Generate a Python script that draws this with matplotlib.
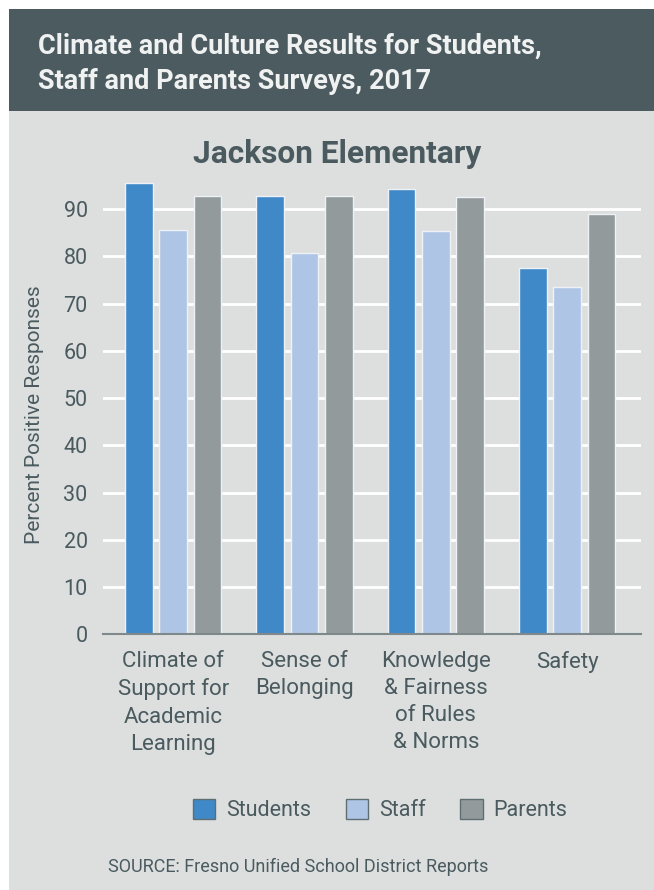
import matplotlib
matplotlib.use("Agg")
import matplotlib.pyplot as plt
from matplotlib import font_manager as fm
from matplotlib.patches import Rectangle, Patch
import numpy as np

categories = ["Climate of\nSupport for\nAcademic\nLearning", "Sense of\nBelonging",
              "Knowledge\n& Fairness\nof Rules\n& Norms", "Safety"]
series_names = ["Students", "Staff", "Parents"]
students = [95.5, 92.7, 94.3, 77.6]
staff = [85.5, 80.6, 85.3, 73.5]
parents = [92.7, 92.7, 92.6, 88.9]
yticks = [0, 10, 20, 30, 40, 50, 60, 70, 80, 90]

colors = ["#3f89c9", "#afc5e6", "#939a9c"]
panel_bg = "#dcdfde"
header_bg = "#4b5b60"
text_col = "#4a5a5f"

names = {f.name for f in fm.fontManager.ttflist}
cond = "Liberation Sans Narrow" if "Liberation Sans Narrow" in names else "Roboto"
boldf = "Roboto" if "Roboto" in names else "DejaVu Sans"

fig = plt.figure(figsize=(6.54, 8.9), dpi=100)
fig.patch.set_facecolor("white")
W, H = 654, 890
fig.add_artist(Rectangle((9 / W, 0), 1 - 9 / W, 1 - 9 / H, transform=fig.transFigure,
                         facecolor=panel_bg, edgecolor="none", zorder=0))
fig.add_artist(Rectangle((9 / W, 1 - 111 / H), 1 - 9 / W, 102 / H, transform=fig.transFigure,
                         facecolor=header_bg, edgecolor="none", zorder=0))

fig.text(38 / W, 1 - 54 / H, "Climate and Culture Results for Students,", fontsize=19.5,
         fontweight="bold", family=[boldf, "DejaVu Sans"], color="#f0f1f1", va="baseline", ha="left")
fig.text(38 / W, 1 - 89 / H, "Staff and Parents Surveys, 2017", fontsize=19.5,
         fontweight="bold", family=[boldf, "DejaVu Sans"], color="#f0f1f1", va="baseline", ha="left")

fig.text(337 / W, 1 - 162.7 / H, "Jackson Elementary", fontsize=22.8, fontweight="bold",
         family=[boldf, "DejaVu Sans"], color=text_col, ha="center", va="baseline")

ax = fig.add_axes([103 / W, 1 - 634.3 / H, 538 / W, (634.3 - 176) / H])
ax.set_facecolor("none")
x = np.arange(len(categories))
bw = 0.211
off = 0.261
for i, (vals, c) in enumerate(zip([students, staff, parents], colors)):
    ax.bar(x + (i - 1) * off, vals, width=bw, color=c, edgecolor="#eef2f6", linewidth=1.0,
           zorder=3, label=series_names[i])

ax.set_xlim(-0.534, 3.561)
ax.set_ylim(0, 97)
ax.set_yticks(yticks)
ax.set_yticklabels([str(t) for t in yticks], fontsize=15.5, family=[cond, "DejaVu Sans"], color=text_col)
ax.set_xticks(x)
ax.set_xticklabels(categories, fontsize=16, family=[cond, "DejaVu Sans"], color=text_col,
                   linespacing=1.38, va="top", ha="center")
ax.tick_params(axis="both", length=0)
ax.tick_params(axis="y", pad=11)
ax.tick_params(axis="x", pad=12)
for t in yticks[1:]:
    ax.axhline(t, color="white", linewidth=2, zorder=1)
for s in ["top", "right", "left"]:
    ax.spines[s].set_visible(False)
ax.spines["bottom"].set_color("#7f898c")
ax.spines["bottom"].set_linewidth(1.5)
ax.spines["bottom"].set_zorder(4)

fig.text(35 / W, 1 - 415 / H, "Percent Positive Responses", rotation=90, fontsize=15,
         family=[cond, "DejaVu Sans"], color=text_col, ha="center", va="center")

handles = [Patch(facecolor=c, edgecolor="#5f6e72", linewidth=1.0) for c in colors]
fig.legend(handles, series_names, loc="center", bbox_to_anchor=(380 / W, 1 - 810 / H),
           ncol=3, frameon=False, prop={"family": [cond, "DejaVu Sans"], "size": 15.5},
           handlelength=1.05, handleheight=1.05, handletextpad=0.5, columnspacing=1.6,
           labelcolor=text_col)

fig.text(108 / W, 1 - 872 / H, "SOURCE: Fresno Unified School District Reports", fontsize=13,
         family=[cond, "DejaVu Sans"], color=text_col, ha="left", va="baseline")

fig.savefig("out.png", dpi=100, facecolor=fig.get_facecolor())
